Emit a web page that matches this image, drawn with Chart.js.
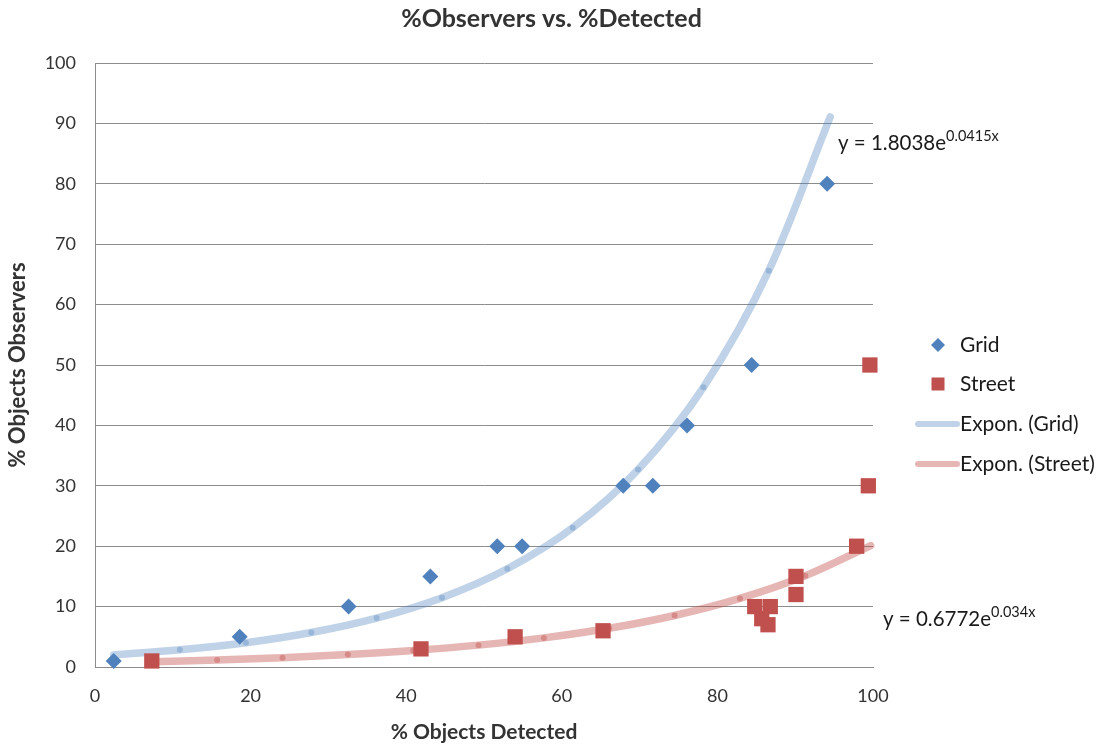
<!DOCTYPE html>
<html><head><meta charset="utf-8">
<script src="https://cdn.jsdelivr.net/npm/chart.js@4/dist/chart.umd.min.js"></script>
<style>html,body{margin:0;padding:0;background:#fff;}#wrap{width:1103px;height:746px;}</style>
</head><body><div id="wrap"><canvas id="c" width="1103" height="746"></canvas></div>
<script>
// ---- data ----
const gridX = [2.4, 18.6, 32.6, 43.1, 51.7, 54.9, 67.9, 71.7, 76.1, 84.4, 94.1];
const gridY = [1, 5, 10, 15, 20, 20, 30, 30, 40, 50, 80];
const streetX = [7.3, 41.9, 54.0, 65.3, 84.8, 86.8, 85.7, 86.5, 90.1, 90.1, 97.9, 99.4, 99.6];
const streetY = [1, 3, 5, 6, 10, 10, 8, 7, 15, 12, 20, 30, 50];
// exponential trendlines (y = 1.8038e^0.0415x and y = 0.6772e^0.034x), sampled where the reference shows joints
const gridTrendX = [2.4, 10.9, 19.4, 27.8, 36.2, 44.6, 53.0, 61.4, 69.8, 78.2, 86.6, 94.5];
const gridTrendY = [1.99, 2.84, 4.03, 5.72, 8.10, 11.48, 16.27, 23.06, 32.68, 46.30, 65.62, 91.07];
const streetTrendX = [7.3, 15.7, 24.1, 32.5, 40.9, 49.3, 57.7, 66.1, 74.5, 82.9, 91.3, 99.7];
const streetTrendY = [0.87, 1.16, 1.54, 2.05, 2.72, 3.62, 4.82, 6.41, 8.53, 11.35, 15.10, 20.09];
const seriesLabels = ['Grid', 'Street', 'Expon. (Grid)', 'Expon. (Street)'];
const equations = [['y = 1.8038e', '0.0415x'], ['y = 0.6772e', '0.034x']];
const titleText = '%Observers vs. %Detected';
const xTitle = '% Objects Detected';
const yTitle = '% Objects Observers';

const FONT = "Lato, 'Open Sans', sans-serif";
const blue = '#4F81BD', red = '#C0504D';
const blueT = 'rgba(79,129,189,0.36)', redT = 'rgba(192,80,77,0.42)';
const pts = (xs, ys) => xs.map((x, i) => ({x: x, y: ys[i]}));
const dotR = n => Array.from({length: n}, (_, i) => (i === 0 || i === n - 1) ? 0 : 3);

const overlay = {
  id: 'overlay',
  afterDraw(chart) {
    const ctx = chart.ctx, ca = chart.chartArea;
    ctx.save();
    // equations
    const eqPos = [[ca.right - 35, 143], [ca.right + 10, 619]];
    equations.forEach((eq, i) => {
      const [x, y] = eqPos[i];
      ctx.fillStyle = '#1a1a1a';
      ctx.textBaseline = 'middle';
      ctx.textAlign = 'left';
      ctx.font = '20.5px ' + FONT;
      ctx.fillText(eq[0], x, y);
      const w = ctx.measureText(eq[0]).width;
      ctx.font = '14.5px ' + FONT;
      ctx.fillText(eq[1], x + w, y - 7);
    });
    // legend
    const lx = ca.right + 65, tx = ca.right + 87;
    const ys = [345, 384, 424, 464];
    ctx.font = '21px ' + FONT;
    ctx.textBaseline = 'middle';
    ys.forEach((y, i) => {
      if (i === 0) {
        ctx.fillStyle = blue;
        ctx.beginPath();
        ctx.moveTo(lx, y - 7); ctx.lineTo(lx + 7, y); ctx.lineTo(lx, y + 7); ctx.lineTo(lx - 7, y);
        ctx.closePath(); ctx.fill();
      } else if (i === 1) {
        ctx.fillStyle = red;
        ctx.fillRect(lx - 6.5, y - 6.5, 13, 13);
      } else {
        ctx.strokeStyle = i === 2 ? blueT : redT;
        ctx.lineWidth = 6;
        ctx.lineCap = 'round';
        ctx.beginPath(); ctx.moveTo(lx - 20, y); ctx.lineTo(lx + 19, y); ctx.stroke();
      }
      ctx.fillStyle = '#1a1a1a';
      ctx.fillText(seriesLabels[i], tx, y);
    });
    ctx.restore();
  }
};

new Chart(document.getElementById('c'), {
  type: 'scatter',
  data: {
    datasets: [
      {label: seriesLabels[0], data: pts(gridX, gridY), pointStyle: 'rectRot', pointRadius: 8,
       backgroundColor: blue, borderColor: blue, borderWidth: 0, clip: false},
      {label: seriesLabels[1], data: pts(streetX, streetY), pointStyle: 'rect', pointRadius: 10.8,
       backgroundColor: red, borderColor: red, borderWidth: 0, clip: false},
      {label: seriesLabels[2], type: 'line', data: pts(gridTrendX, gridTrendY), showLine: true, fill: false,
       borderColor: blueT, borderWidth: 7.5, borderCapStyle: 'round', borderJoinStyle: 'round',
       cubicInterpolationMode: 'monotone', pointRadius: dotR(gridTrendX.length),
       pointBackgroundColor: blueT, pointBorderWidth: 0, clip: false},
      {label: seriesLabels[3], type: 'line', data: pts(streetTrendX, streetTrendY), showLine: true, fill: false,
       borderColor: redT, borderWidth: 7.5, borderCapStyle: 'round', borderJoinStyle: 'round',
       cubicInterpolationMode: 'monotone', pointRadius: dotR(streetTrendX.length),
       pointBackgroundColor: redT, pointBorderWidth: 0, clip: false}
    ]
  },
  options: {
    responsive: false, animation: false, devicePixelRatio: 1,
    layout: {padding: 0},
    plugins: {
      legend: {display: false}, tooltip: {enabled: false},
      title: {display: true, text: titleText, color: '#333333',
              font: {family: FONT, size: 25, weight: 'bold'}, padding: {top: 4, bottom: 29}}
    },
    scales: {
      x: {type: 'linear', min: 0, max: 100,
          ticks: {stepSize: 20, padding: 18, color: '#333333', font: {family: FONT, size: 18}},
          grid: {display: false, drawTicks: false},
          border: {display: true, color: '#8c8c8c', width: 1},
          title: {display: true, text: xTitle, color: '#333333', font: {family: FONT, size: 21, weight: 'bold'},
                  padding: {top: 0, bottom: 1}},
          afterFit: s => { s.height = 79; }},
      y: {type: 'linear', min: 0, max: 100,
          ticks: {stepSize: 10, padding: 19, color: '#333333', font: {family: FONT, size: 18}},
          grid: {color: '#8c8c8c', lineWidth: 1, drawTicks: false},
          border: {display: true, color: '#8c8c8c', width: 1},
          title: {display: true, text: yTitle, color: '#333333', font: {family: FONT, size: 22, weight: 'bold'},
                  padding: {top: 5, bottom: 0}},
          afterFit: s => { s.width = 95; }},
      yR: {type: 'linear', position: 'right', min: 0, max: 100, display: true,
           ticks: {display: false}, grid: {display: false, drawOnChartArea: false, drawTicks: false},
           border: {display: false}, title: {display: false},
           afterFit: s => { s.width = 230; }}
    }
  },
  plugins: [overlay]
});
</script></body></html>
